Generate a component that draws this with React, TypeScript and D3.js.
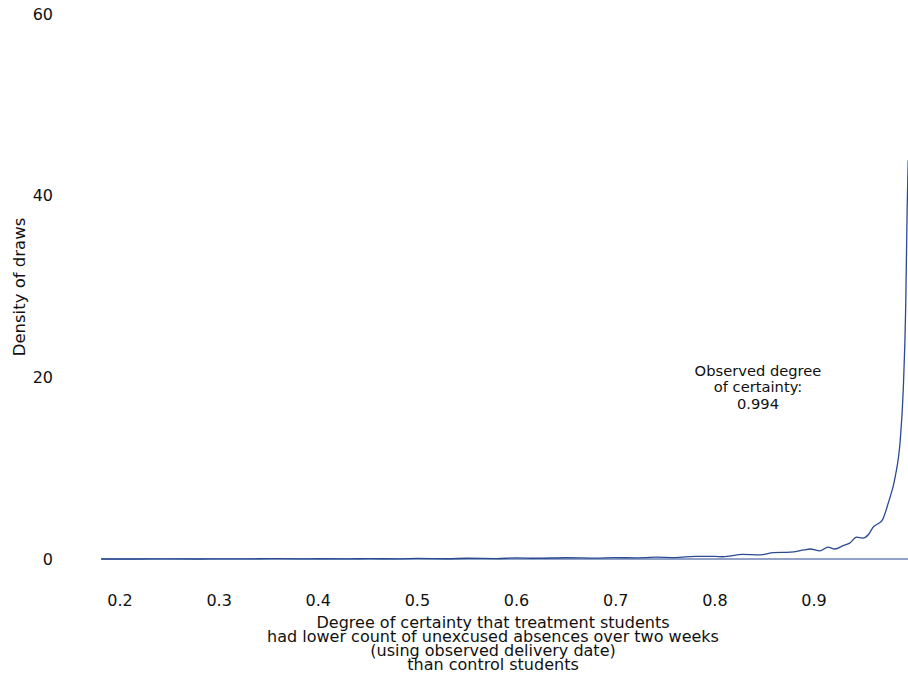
import * as d3 from 'd3';
import React from 'react';

// density of simulated draws (x = degree of certainty, y = density)
const certainty = [0.181, 0.22, 0.25, 0.28, 0.3, 0.33, 0.35, 0.38, 0.4, 0.43, 0.45, 0.48, 0.5, 0.53, 0.55, 0.58, 0.6, 0.62, 0.65, 0.68, 0.7, 0.72, 0.74, 0.76, 0.78, 0.8, 0.808, 0.828, 0.845, 0.859, 0.876, 0.89, 0.896, 0.906, 0.914, 0.921, 0.93, 0.936, 0.943, 0.949, 0.955, 0.96, 0.965, 0.969, 0.975, 0.982, 0.987, 0.99, 0.9925, 0.994, 0.995];
const density = [0.0, 0.0, 0.01, 0.0, 0.02, 0.01, 0.05, 0.02, 0.03, 0.01, 0.04, 0.02, 0.06, 0.03, 0.08, 0.05, 0.12, 0.08, 0.14, 0.1, 0.15, 0.12, 0.2, 0.15, 0.3, 0.28, 0.25, 0.5, 0.45, 0.7, 0.75, 1.0, 1.1, 0.9, 1.3, 1.1, 1.5, 1.75, 2.4, 2.3, 2.7, 3.55, 3.9, 4.3, 6.2, 9.1, 13.1, 18.6, 27.8, 38.8, 43.9];

const xTicks = [0.2, 0.3, 0.4, 0.5, 0.6, 0.7, 0.8, 0.9];
const yTicks = [0, 20, 40, 60];
const xTitle = [
  'Degree of certainty that treatment students',
  'had lower count of unexcused absences over two weeks',
  '(using observed delivery date)',
  'than control students',
];
const note = ['Observed degree', 'of certainty:', '0.994'];

const W = 908, H = 675;

export default function App() {
  const x = d3.scaleLinear().domain([0.2, 0.9]).range([120, 814]);
  const y = d3.scaleLinear().domain([0, 60]).range([559, 14]);
  const pts = certainty.map((c, i) => [c, density[i]] as [number, number]);
  const line = d3.line<[number, number]>()
    .x(d => x(d[0]))
    .y(d => y(d[1]))
    .curve(d3.curveMonotoneX);
  const font = 'DejaVu Sans, sans-serif';

  return (
    <svg width={W} height={H} style={{ position: 'absolute', left: 0, top: 0, background: '#fff' }} fontFamily={font}>
      <line x1={x(0.181)} x2={x(0.995)} y1={y(0)} y2={y(0)} stroke="#6f84b4" strokeWidth={1.5} />
      <path d={line(pts) || ''} fill="none" stroke="#2a4a92" strokeWidth={1.3} />
      {yTicks.map(t => (
        <text key={t} x={53} y={y(t)} dy="0.36em" textAnchor="end" fontSize={16} fill="#111">{t}</text>
      ))}
      {xTicks.map(t => (
        <text key={t} x={x(t)} y={606} textAnchor="middle" fontSize={16} fill="#111">{t}</text>
      ))}
      <text transform="translate(25,287) rotate(-90)" textAnchor="middle" fontSize={16.5} fill="#111">Density of draws</text>
      {xTitle.map((s, i) => (
        <text key={s} x={493} y={628 + i * 14.1} textAnchor="middle" fontSize={16} fill="#111">{s}</text>
      ))}
      {note.map((s, i) => (
        <text key={s} x={758} y={375.5 + i * 16.5} textAnchor="middle" fontSize={14.7} fill="#111">{s}</text>
      ))}
    </svg>
  );
}
